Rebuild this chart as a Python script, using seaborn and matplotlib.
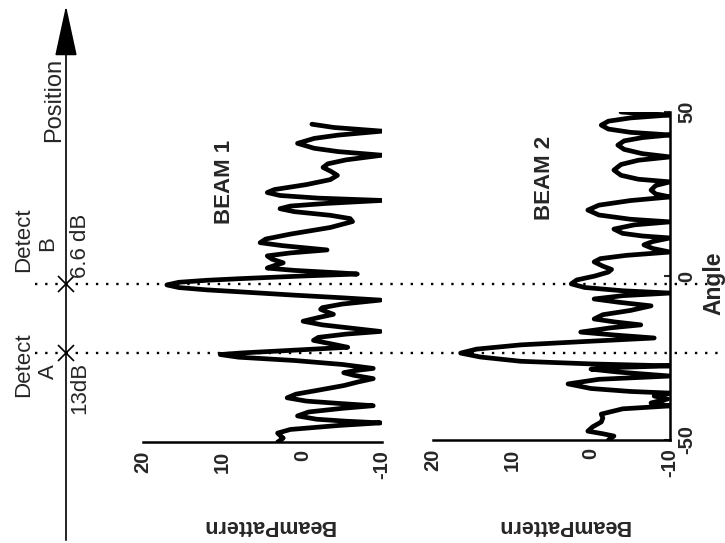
import numpy as np
import pandas as pd
import matplotlib
matplotlib.use("Agg")
import matplotlib.pyplot as plt
import matplotlib.transforms as mtransforms
import seaborn as sns

# ---------------------------------------------------------
# data read off the (rotated) reference picture
# angle in degrees, beam pattern in dB
# ---------------------------------------------------------
beam1_angle = [46.3, 45.3, 44.2, 43.0, 42.0, 40.5, 39.0, 38.0, 36.9,
               35.5, 34.3, 33.2, 32.0, 30.8, 29.5, 28.0, 26.5, 25.6, 24.7, 23.9, 23.2,
               22.3, 21.5, 20.7, 19.8, 18.7, 17.7, 16.8,
               15.0, 13.0, 11.5, 10.4, 9.5, 8.2, 7.3, 6.4, 5.4, 4.3, 3.4, 2.7, 2.0, 1.2, 0.9,
               0.3, -0.5, -1.0, -1.6, -2.4, -3.2, -3.9, -4.5, -5.5, -6.3, -7.0,
               -8.2, -9.3, -9.8, -10.5, -11.3, -12.3, -13.4, -14.5, -15.6, -16.5,
               -17.3, -18.3, -19.2, -20.2, -21.3, -22.3, -23.0, -23.5, -24.3, -25.3,
               -26.5, -27.7, -28.4, -29.0, -29.8, -30.8, -31.8, -32.9, -34.3, -35.5,
               -36.6, -37.6, -38.3, -39.0, -39.8, -40.9, -42.1, -43.1, -43.7, -44.2,
               -45.0, -46.2, -47.3, -48.0, -48.8, -49.4, -50.0]
beam1_db = [-1.2, -4.0, -10.0, -4.5, -1.5, 0.6, -1.5, -4.5, -10.0,
            -5.5, -3.2, -2.6, -3.6, -4.4, -3.5, -0.5, 3.5, 4.4, 2.8, -2.0, -10.0,
            -3.0, 1.5, 2.8, 1.0, -3.5, -6.0, -6.3,
            -3.5, 1.5, 4.6, 5.3, 2.5, -3.1, 1.5, 4.4, 3.8, 2.4, 3.6, 4.4, 1.0, -5.0, -6.9,
            0.0, 7.8, 12.0, 15.5, 17.0, 15.5, 12.0, 7.8, 1.0, -5.0, -9.8,
            -5.0, -2.5, -2.3, -3.0, -3.9, -2.0, -0.1, -2.5, -6.5, -9.8,
            -5.5, -2.0, -1.4, -3.5, -5.7, 2.0, 7.5, 10.3, 8.0, 1.0,
            -5.0, -8.9, -6.5, -5.2, -6.5, -8.9, -7.0, -5.2, -2.0, 0.8,
            1.9, -0.5, -4.5, -8.9, -5.0, -0.8, 0.6, -1.8, -5.5, -9.8,
            -4.5, 1.5, 3.1, 2.8, 2.4, 2.7, 3.1]

beam2_angle = [50.0, 49.5, 49.1,
               48.2, 47.2, 46.0, 44.8, 43.8, 43.0,
               42.2, 41.2, 39.9, 38.6, 37.3, 36.3,
               35.3, 34.0, 32.3, 30.7, 29.5, 28.7,
               27.6, 26.2, 25.0, 24.1,
               23.0, 21.6, 20.1, 18.6, 17.3, 16.5,
               15.6, 14.3, 13.0, 12.2, 11.6,
               10.5, 9.5, 8.4, 7.3,
               6.3, 5.3, 4.3, 3.0, 2.0, 1.2, 0.0, -1.2, -2.4, -3.5, -4.5, -5.2,
               -6.0, -7.0, -8.0, -9.1, -10.5, -11.8, -13.1, -14.0, -14.9, -15.8,
               -17.1, -18.0, -18.9, -20.0, -21.0, -22.3, -23.5, -24.7, -26.0, -26.8,
               -27.4, -27.9, -28.4, -29.3, -30.5, -31.5, -32.9, -34.3, -35.2, -35.7,
               -36.6, -37.5, -38.7, -39.6, -40.5, -42.1, -43.3, -44.5, -46.0, -47.3,
               -48.1, -48.8, -50.0]
beam2_db = [-3.8, -6.5, -10.0,
            -5.0, -2.2, -1.3, -2.2, -5.0, -10.0,
            -6.5, -4.2, -3.4, -4.2, -6.5, -10.0,
            -6.0, -3.8, -2.9, -3.8, -6.0, -10.0,
            -8.2, -7.6, -8.2, -10.0,
            -5.0, -1.0, 0.4, -1.0, -5.0, -10.0,
            -5.5, -2.9, -4.0, -6.5, -10.0,
            -7.8, -6.7, -7.8, -10.0,
            -4.5, -1.2, -0.4, -1.5, -2.6, -2.2, -0.5, 1.8, 2.5, 0.8, -4.0, -10.0,
            -4.0, -0.4, -3.5, -7.6, -5.0, -1.5, -0.4, -3.0, -6.3, -2.5,
            1.3, -3.0, -8.0, 1.0, 8.9, 14.5, 16.5, 14.0, 8.9, 0.0,
            -10.0, -3.0, 0.0, -3.5, -10.0, -1.0, 2.9, 0.0, -5.0, -10.0,
            -8.0, -9.7, -7.6, -10.0, -4.0, -1.3, -1.5, -1.3, -0.2, 0.4,
            -1.5, -2.9, -2.2]

db_ticks = [20, 10, 0, -10]
angle_ticks = [-50, 0, 50]
detect_b = -2.5
detect_a = -23.5

sns.set_style("white")
plt.rcParams['font.family'] = ['Liberation Sans', 'DejaVu Sans']

W, H = 725, 543
fig = plt.figure(figsize=(7.25, 5.43), dpi=100)


def fx(px):
    return px / W


def fy(py):
    return 1 - py / H


ax1 = fig.add_axes([fx(143), fy(442), fx(382 - 143), (442 - 112) / H])
ax2 = fig.add_axes([fx(433), fy(440), fx(670 - 433), (440 - 112) / H])

df1 = pd.DataFrame({"db": beam1_db, "angle": beam1_angle})
df2 = pd.DataFrame({"db": beam2_db, "angle": beam2_angle})
sns.lineplot(data=df1, x="db", y="angle", sort=False, estimator=None,
             color="black", lw=3.4, ax=ax1)
sns.lineplot(data=df2, x="db", y="angle", sort=False, estimator=None,
             color="black", lw=3.4, ax=ax2)

for ax in (ax1, ax2):
    ax.set_xlim(20, -10)
    ax.set_ylim(-50, 50)
    ax.set_xticks(db_ticks)
    ax.set_xticklabels([str(t) for t in db_ticks], rotation=90,
                       fontsize=14.5, fontweight="bold")
    ax.tick_params(axis="x", direction="in", length=4, width=1.5, pad=6)
    ax.set_xlabel("")
    ax.set_ylabel("")
    for s in ("top", "left", "right"):
        ax.spines[s].set_visible(False)
    ax.spines["bottom"].set_linewidth(1.8)
    ax.spines["bottom"].set_color("black")
    ax.patch.set_alpha(0)

ax1.set_yticks([])
ax2.spines["right"].set_visible(True)
ax2.spines["right"].set_linewidth(1.8)
ax2.spines["right"].set_color("black")
ax2.yaxis.tick_right()
ax2.set_yticks(angle_ticks)
ax2.set_yticklabels([str(t) for t in angle_ticks], rotation=90,
                    fontsize=14.5, fontweight="bold", va="center")
ax2.tick_params(axis="y", direction="in", length=4, width=1.5, pad=5)

# beam names and axis labels (the whole figure is rotated)
fig.text(fx(224), fy(182), "BEAM 1", rotation=90, ha="center", va="center",
         fontsize=16, fontweight="bold")
fig.text(fx(545), fy(178), "BEAM 2", rotation=90, ha="center", va="center",
         fontsize=16, fontweight="bold")
fig.text(fx(268), fy(525), "BeamPattern", rotation=180, ha="center", va="center",
         fontsize=15.5, fontweight="bold")
fig.text(fx(563), fy(525), "BeamPattern", rotation=180, ha="center", va="center",
         fontsize=15.5, fontweight="bold")
fig.text(fx(714), fy(283), "Angle", rotation=90, ha="center", va="center",
         fontsize=16.5, fontweight="bold")

# position arrow
fig.add_artist(matplotlib.patches.FancyArrowPatch(
    (fx(66), 0.0), (fx(66), fy(3)), transform=fig.transFigure,
    arrowstyle="-|>,head_length=2.3,head_width=0.5", color="black", lw=1.2,
    mutation_scale=14))
fig.text(fx(54), fy(100), "Position", rotation=90, ha="center", va="center",
         fontsize=17)

# detection lines across the whole figure
trans = mtransforms.blended_transform_factory(fig.transFigure, ax2.transData)
for ang in (detect_b, detect_a):
    fig.add_artist(matplotlib.lines.Line2D([fx(35), 1.0], [ang, ang],
                                           transform=trans, color="black",
                                           lw=1.7, ls=(0, (1, 3.3))))
    fig.add_artist(matplotlib.lines.Line2D([fx(66)], [ang], transform=trans,
                                           marker="x", ms=11, mew=1.2,
                                           color="black", ls="none"))

fig.text(fx(24), fy(240), "Detect", rotation=90, ha="center", va="center", fontsize=16)
fig.text(fx(48), fy(244), "B", rotation=90, ha="center", va="center", fontsize=16)
fig.text(fx(80), fy(246), "6.6 dB", rotation=90, ha="center", va="center", fontsize=16)
fig.text(fx(24), fy(365), "Detect", rotation=90, ha="center", va="center", fontsize=16)
fig.text(fx(48), fy(372), "A", rotation=90, ha="center", va="center", fontsize=16)
fig.text(fx(80), fy(388), "13dB", rotation=90, ha="center", va="center", fontsize=16)

fig.savefig("out.png", dpi=100)
